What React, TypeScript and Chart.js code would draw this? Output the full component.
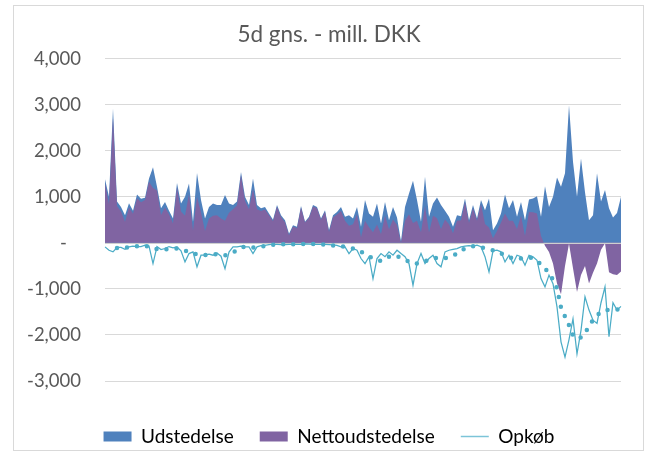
import React, { useEffect, useRef } from "react";
import { Chart, registerables } from "chart.js";

Chart.register(...registerables);

const chartTitle = "5d gns. - mill. DKK";
const seriesNames = ["Udstedelse", "Nettoudstedelse", "Opkøb"];
const tickLabels = ["Mar.21", "Jun.21", "Sep.21", "Dec.21", "Mar.22"];
const tickPositions = [0, 31, 63, 94, 125];

const udstedelse = [
  1380, 1000, 2920, 900, 780, 600, 860, 700, 1050, 960,
  980, 1400, 1640, 1220, 750, 890, 700, 530, 1300, 855,
  1000, 1290, 460, 1520, 930, 530, 780, 855, 820, 820,
  1040, 855, 820, 900, 1540, 1000, 820, 1400, 820, 750,
  780, 640, 500, 820, 600, 490, 200, 385, 350, 800,
  460, 565, 820, 780, 530, 710, 275, 600, 670, 780,
  565, 600, 530, 780, 350, 930, 640, 565, 855, 420,
  890, 490, 780, 550, 30, 780, 1070, 1350, 930, 460,
  1435, 565, 855, 985, 820, 700, 565, 350, 600, 580,
  965, 490, 820, 530, 930, 710, 965, 275, 420, 640,
  1050, 750, 930, 565, 890, 490, 940, 965, 1015, 565,
  1230, 780, 1000, 1420, 1220, 1510, 2990, 1760, 1000, 1830,
  1100, 490, 600, 1510, 900, 1150, 750, 550, 650, 1000,
];

const nettoudstedelse = [
  1290, 840, 2720, 800, 680, 460, 770, 630, 970, 880,
  930, 1330, 1190, 1140, 605, 770, 620, 420, 1210, 680,
  590, 1060, 265, 1000, 660, 260, 530, 590, 600, 530,
  480, 655, 730, 810, 1470, 910, 730, 1170, 730, 690,
  725, 600, 470, 785, 560, 450, 165, 355, 315, 770,
  440, 540, 790, 750, 500, 675, 235, 555, 615, 690,
  480, 370, 405, 620, 120, 480, 340, 230, 400, 190,
  590, 295, 510, 390, 0, 480, 620, 430, 480, 230,
  800, 225, 590, 535, 300, 505, 405, 210, 480, 490,
  890, 430, 750, 480, 845, 410, 335, 100, 260, 445,
  640, 480, 480, 300, 590, 150, 670, 665, 640, 150,
  -60, -200, -450, -880, -1115, -500, -20, -550, -1065, -700,
  -500, -880, -650, -450, -150, -10, -640, -680, -700, -620,
];

const opkob = [
  -87, -160, -195, -100, -100, -140, -87, -72, -80, -80,
  -50, -70, -450, -80, -145, -123, -80, -110, -90, -174,
  -413, -232, -195, -520, -268, -268, -246, -268, -220, -290,
  -560, -200, -87, -87, -72, -87, -87, -232, -87, -60,
  -55, -40, -30, -35, -40, -40, -35, -30, -35, -30,
  -20, -25, -30, -30, -30, -35, -40, -45, -55, -87,
  -87, -232, -123, -160, -340, -450, -300, -775, -340, -232,
  -300, -195, -268, -160, -232, -300, -450, -920, -450, -232,
  -450, -340, -268, -450, -520, -195, -160, -140, -123, -87,
  -72, -60, -70, -50, -85, -300, -630, -174, -160, -195,
  -413, -268, -450, -268, -300, -485, -268, -300, -377, -775,
  -955, -700, -885, -1390, -2150, -2480, -2100, -1650, -2410, -1900,
  -1170, -1460, -1680, -1750, -1300, -955, -2040, -1300, -1460, -1380,
];

const opkobTrend = [
  null, null, null, -110, -105, -100, -95, -80, -72, -70,
  -72, -80, -100, -135, -140, -140, -138, -130, -123, -140,
  -170, -190, -225, -250, -258, -261, -258, -250, -248, -258,
  -268, -245, -210, -150, -100, -85, -95, -100, -90, -78,
  -70, -50, -40, -35, -30, -29, -29, -29, -28, -25,
  -22, -24, -27, -29, -32, -35, -42, -55, -65, -75,
  -85, -100, -125, -145, -190, -246, -290, -335, -370, -390,
  -360, -300, -268, -290, -320, -360, -410, -455, -450, -420,
  -400, -360, -335, -325, -326, -330, -320, -280, -232, -170,
  -123, -95, -75, -75, -95, -116, -135, -160, -185, -230,
  -268, -305, -340, -345, -340, -330, -320, -340, -395, -470,
  -550, -680, -800, -1000, -1400, -1600, -1790, -2000, -2080, -2050,
  -1971, -1790, -1680, -1580, -1500, -1464, -1455, -1450, -1450, -1445,
];

const categories = udstedelse.map((_, i) => String(i));

const BLUE = "#4f81bd";
const PURPLE = "#8064a2";
const AQUA = "#4bacc6";
const TEXT = "#595959";
const GRID = "#d9d9d9";
const FONT = "Lato, 'Noto Sans', sans-serif";

const zeroLinePlugin = {
  id: "zeroLine",
  afterDatasetDraw(chart: any, args: any) {
    if (args.index !== 1) return;
    const y = Math.round(chart.scales.y.getPixelForValue(0)) + 0.5;
    const { left, right } = chart.chartArea;
    const ctx = chart.ctx;
    ctx.save();
    ctx.strokeStyle = "#cfcfcf";
    ctx.lineWidth = 1;
    ctx.beginPath();
    ctx.moveTo(left, y);
    ctx.lineTo(right, y);
    ctx.stroke();
    ctx.restore();
  },
};

export default function App() {
  const canvasRef = useRef<HTMLCanvasElement | null>(null);

  useEffect(() => {
    if (!canvasRef.current) return;
    Chart.defaults.font.family = FONT;
    Chart.defaults.color = TEXT;
    const chart = new Chart(canvasRef.current, {
      type: "line",
      data: {
        labels: categories,
        datasets: [
          {
            label: seriesNames[0],
            data: udstedelse,
            backgroundColor: BLUE,
            borderColor: "rgba(0,0,0,0)",
            borderWidth: 0,
            pointRadius: 0,
            fill: "origin",
            tension: 0,
            order: 4,
          },
          {
            label: seriesNames[1],
            data: nettoudstedelse,
            backgroundColor: PURPLE,
            borderColor: "rgba(0,0,0,0)",
            borderWidth: 0,
            pointRadius: 0,
            fill: "origin",
            tension: 0,
            order: 3,
          },
          {
            label: seriesNames[2],
            data: opkob,
            borderColor: AQUA,
            backgroundColor: AQUA,
            borderWidth: 1.25,
            pointRadius: 0,
            fill: false,
            tension: 0,
            order: 2,
          },
          {
            label: "trend",
            data: opkobTrend as any,
            borderColor: AQUA,
            backgroundColor: AQUA,
            borderWidth: 4.5,
            borderDash: [0, 10],
            borderCapStyle: "round",
            pointRadius: 0,
            fill: false,
            tension: 0.3,
            order: 1,
          },
        ],
      },
      options: {
        animation: false,
        responsive: false,
        maintainAspectRatio: false,
        devicePixelRatio: 1,
        layout: { padding: { left: 13, right: 2, top: 0, bottom: 0 } },
        plugins: {
          title: {
            display: true,
            text: chartTitle,
            color: TEXT,
            font: { size: 22.5, weight: "normal", family: FONT },
            padding: { top: 21.5, bottom: 10.2 },
          },
          legend: {
            display: true,
            position: "bottom",
            labels: {
              usePointStyle: true,
              pointStyleWidth: 28,
              boxHeight: 10,
              padding: 26,
              color: TEXT,
              font: { size: 19, family: FONT },
              generateLabels: () => [
                { text: seriesNames[0], fillStyle: BLUE, strokeStyle: BLUE, lineWidth: 0, pointStyle: "rect", datasetIndex: 0, hidden: false },
                { text: seriesNames[1], fillStyle: PURPLE, strokeStyle: PURPLE, lineWidth: 0, pointStyle: "rect", datasetIndex: 1, hidden: false },
                { text: seriesNames[2], fillStyle: AQUA, strokeStyle: "#7cc4d8", lineWidth: 1.5, pointStyle: "line", datasetIndex: 2, hidden: false },
              ] as any,
            },
          },
          tooltip: { enabled: false },
        },
        scales: {
          x: {
            type: "category",
            offset: false,
            grid: { display: false },
            border: { display: false },
            ticks: {
              autoSkip: false,
              maxRotation: 0,
              minRotation: 0,
              padding: 11,
              color: TEXT,
              font: { size: 18.5, family: FONT },
              callback: (value: any) => {
                const k = tickPositions.indexOf(Number(value));
                return k >= 0 ? tickLabels[k] : "";
              },
            },
            afterBuildTicks: (axis: any) => {
              axis.ticks = tickPositions.map((v) => ({ value: v }));
            },
            afterFit: (s: any) => {
              s.height = 20;
              s.paddingRight = 0;
              s.paddingLeft = 0;
            },
          },
          y: {
            type: "linear",
            min: -3000,
            max: 4000,
            grid: { color: GRID, lineWidth: 1, drawTicks: false },
            border: { display: false },
            ticks: {
              stepSize: 1000,
              padding: 24,
              color: TEXT,
              font: { size: 18.5, family: FONT },
              callback: (value: any) =>
                Number(value) === 0 ? "-   " : Number(value).toLocaleString("en-US"),
            },
            afterFit: (s: any) => {
              s.width = 92;
            },
          },
          yR: {
            type: "linear",
            position: "right",
            display: true,
            grid: { display: false, drawTicks: false },
            border: { display: false },
            ticks: { display: false },
            afterFit: (s: any) => {
              s.width = 24;
            },
          },
        },
      } as any,
      plugins: [zeroLinePlugin],
    });
    return () => chart.destroy();
  }, []);

  return (
    <div
      style={{
        position: "fixed",
        left: 0,
        top: 0,
        width: 647,
        height: 452,
        overflow: "hidden",
        background: "#ffffff",
      }}
    >
      <div
        style={{
          position: "absolute",
          left: 13,
          top: 5,
          width: 631,
          height: 446,
          border: "1px solid #d9d9d9",
          boxSizing: "border-box",
        }}
      />
      <canvas
        ref={canvasRef}
        width={647}
        height={456}
        style={{ position: "absolute", left: 0, top: 0, width: 647, height: 456, display: "block" }}
      />
    </div>
  );
}
